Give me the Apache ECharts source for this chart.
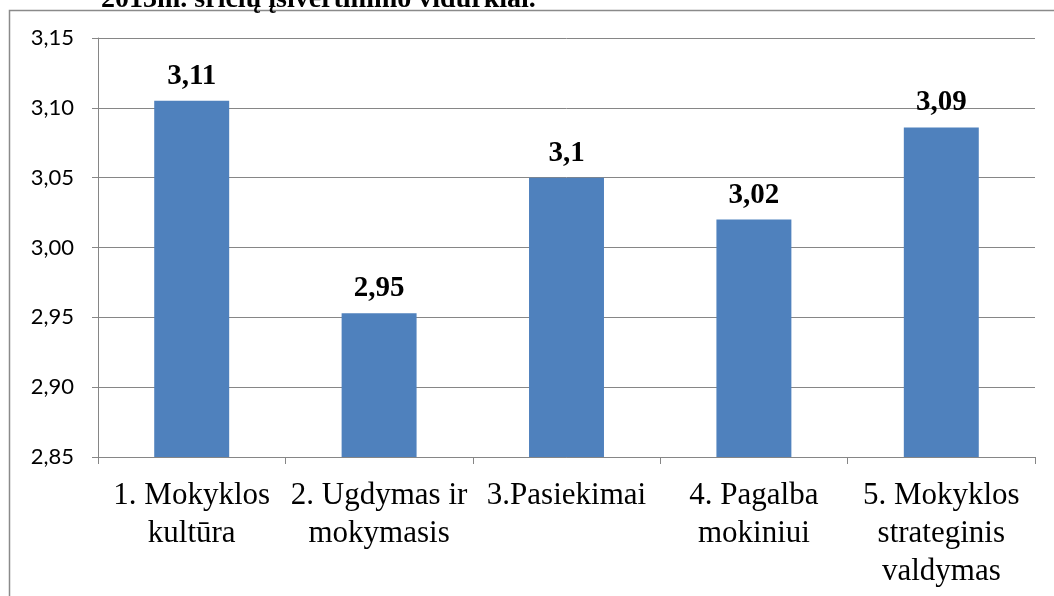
<!DOCTYPE html>
<html>
<head>
<meta charset="utf-8">
<script src="https://cdn.jsdelivr.net/npm/echarts@6/dist/echarts.min.js"></script>
<style>html,body{margin:0;padding:0;background:#fff;}#c{width:1054px;height:596px;}</style>
</head>
<body>
<div id="c"></div>
<script>
const titleText = '2013m. sričių įsivertinimo vidurkiai.';
const categories = ['1. Mokyklos\nkultūra', '2. Ugdymas ir\nmokymasis', '3.Pasiekimai', '4. Pagalba\nmokiniui', '5. Mokyklos\nstrateginis\nvaldymas'];
const values = [3.105, 2.953, 3.05, 3.02, 3.086];
const valueLabels = ['3,11', '2,95', '3,1', '3,02', '3,09'];
const yMin = 2.85, yMax = 3.15, yStep = 0.05;

const chart = echarts.init(document.getElementById('c'), null, {renderer: 'canvas'});
chart.setOption({
  animation: false,
  backgroundColor: '#fff',
  title: {
    text: titleText,
    left: 96,
    top: -19,
    textStyle: {fontFamily: 'Liberation Serif', fontWeight: 'bold', fontSize: 28, color: '#000', lineHeight: 28}
  },
  graphic: [{
    type: 'rect', silent: true,
    shape: {x: 9.5, y: 10.5, width: 1200, height: 800},
    style: {fill: 'none', stroke: '#8a8a8a', lineWidth: 1.5}
  }],
  grid: {left: 98, right: 19, top: 38, bottom: 139},
  xAxis: {
    type: 'category',
    data: categories,
    axisLine: {lineStyle: {color: '#868686', width: 1}},
    axisTick: {show: true, length: 7, lineStyle: {color: '#868686'}},
    axisLabel: {
      interval: 0, hideOverlap: false, margin: 20,
      fontFamily: 'Liberation Serif', fontSize: 31, lineHeight: 38, color: '#000'
    }
  },
  yAxis: {
    type: 'value', min: yMin, max: yMax, interval: yStep,
    axisLine: {show: true, lineStyle: {color: '#868686', width: 1}},
    axisTick: {show: true, length: 6, lineStyle: {color: '#868686'}},
    splitLine: {lineStyle: {color: '#868686', width: 1}},
    axisLabel: {
      margin: 24, fontFamily: 'Lato', fontSize: 22, color: '#000',
      formatter: v => v.toFixed(2).replace('.', ',')
    }
  },
  series: [{
    type: 'bar',
    data: values,
    barWidth: '40%',
    itemStyle: {color: '#4F81BD'},
    label: {
      show: true, position: 'top', distance: 10,
      fontFamily: 'Liberation Serif', fontWeight: 'bold', fontSize: 29, color: '#000',
      formatter: p => valueLabels[p.dataIndex]
    }
  }]
});
</script>
</body>
</html>
